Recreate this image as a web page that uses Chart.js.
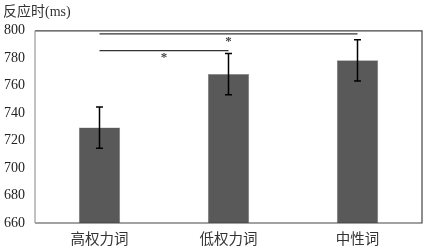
<!DOCTYPE html>
<html>
<head>
<meta charset="utf-8">
<script src="https://cdn.jsdelivr.net/npm/chart.js@4"></script>
<style>
  html, body { margin: 0; padding: 0; background: #fff; }
  #wrap { width: 424px; height: 248px; }
</style>
</head>
<body>
<div id="wrap"><canvas id="chart"></canvas></div>
<script>
// chart values
const categories = ['高权力词', '低权力词', '中性词'];
const meanRT = [729.5, 768.5, 778.5];
const errorRT = [15, 15, 15];
const yTicks = [660, 680, 700, 720, 740, 760, 780, 800];

// significance brackets (category index from -> to, height in ms)
const sigFrom = [0, 0];
const sigTo = [2, 1];
const sigLevel = [797.8, 785.6];
const sigMark = ['*', '*'];

const serif = "'Liberation Serif', 'Noto Sans CJK SC', serif";

// Draw error bars, significance lines and the plot frame
const extrasPlugin = {
  id: 'extras',
  afterDatasetsDraw(chart) {
    const { ctx, chartArea, scales } = chart;
    const x = scales.x;
    const y = scales.y;

    ctx.save();
    // error bars
    ctx.strokeStyle = '#000';
    ctx.lineWidth = 1.5;
    meanRT.forEach((m, i) => {
      const cx = x.getPixelForValue(i);
      const top = y.getPixelForValue(m + errorRT[i]);
      const bot = y.getPixelForValue(m - errorRT[i]);
      ctx.beginPath();
      ctx.moveTo(cx, top);
      ctx.lineTo(cx, bot);
      ctx.moveTo(cx - 3.5, top);
      ctx.lineTo(cx + 3.5, top);
      ctx.moveTo(cx - 3.5, bot);
      ctx.lineTo(cx + 3.5, bot);
      ctx.stroke();
    });

    // significance lines
    ctx.strokeStyle = '#333';
    ctx.lineWidth = 1.2;
    ctx.fillStyle = '#444';
    ctx.font = "bold 13px " + serif;
    ctx.textAlign = 'center';
    ctx.textBaseline = 'top';
    sigFrom.forEach((f, i) => {
      const x1 = x.getPixelForValue(f);
      const x2 = x.getPixelForValue(sigTo[i]);
      const ly = y.getPixelForValue(sigLevel[i]);
      ctx.beginPath();
      ctx.moveTo(x1, ly);
      ctx.lineTo(x2, ly);
      ctx.stroke();
      ctx.fillText(sigMark[i], (x1 + x2) / 2, ly + 1);
    });

    // plot frame
    ctx.lineWidth = 1.2;
    ctx.strokeStyle = '#444';
    ctx.beginPath();
    ctx.moveTo(chartArea.left, chartArea.top);
    ctx.lineTo(chartArea.right, chartArea.top);
    ctx.lineTo(chartArea.right, chartArea.bottom);
    ctx.lineTo(chartArea.left, chartArea.bottom);
    ctx.stroke();
    ctx.strokeStyle = '#999';
    ctx.beginPath();
    ctx.moveTo(chartArea.left, chartArea.top);
    ctx.lineTo(chartArea.left, chartArea.bottom);
    ctx.stroke();
    ctx.restore();
  }
};

new Chart(document.getElementById('chart'), {
  type: 'bar',
  data: {
    labels: categories,
    datasets: [
      {
        data: meanRT,
        backgroundColor: '#595959',
        borderColor: '#8a8a8a',
        borderWidth: 0.5,
        categoryPercentage: 1,
        barPercentage: 0.32,
      },
    ],
  },
  options: {
    responsive: true,
    maintainAspectRatio: false,
    animation: false,
    layout: {
      padding: { left: 3, right: 2, top: 0, bottom: 0 },
    },
    scales: {
      x: {
        grid: { display: false, drawTicks: false },
        border: { display: false },
        ticks: {
          color: '#333',
          padding: 7,
          font: { family: "'Noto Sans CJK SC', sans-serif", size: 14.5 },
        },
        afterFit: (s) => { s.height = 25; },
      },
      y: {
        min: 660,
        max: 800,
        grid: { display: false, drawTicks: false },
        border: { display: false },
        afterBuildTicks: (s) => { s.ticks = yTicks.map((v) => ({ value: v })); },
        ticks: {
          color: '#222',
          padding: 10,
          font: { family: serif, size: 14 },
        },
        afterFit: (s) => { s.width = 32; },
      },
    },
    plugins: {
      legend: { display: false },
      tooltip: { enabled: false },
      title: {
        display: true,
        text: '反应时(ms)',
        align: 'start',
        color: '#333',
        font: { family: serif, size: 14, weight: 'normal' },
        padding: { top: 4, bottom: 10 },
      },
    },
  },
  plugins: [extrasPlugin],
});
</script>
</body>
</html>
